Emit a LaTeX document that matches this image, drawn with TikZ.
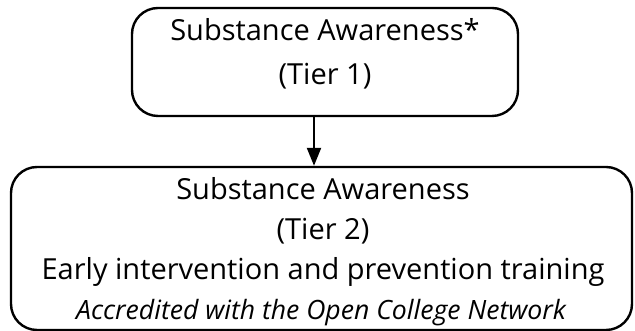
\documentclass[tikz,border=0pt]{standalone}
\usepackage{fontspec}
\setmainfont{Open Sans}
\usetikzlibrary{arrows.meta}
\begin{document}
\begin{tikzpicture}[x=1pt,y=1pt,
  box/.style={draw, line width=2.4pt, rounded corners=26pt, inner sep=0pt},
  txt/.style={anchor=base, inner sep=0pt, font=\fontsize{29}{36}\selectfont},
  itx/.style={anchor=base, inner sep=0pt, font=\fontsize{26.6}{32}\selectfont\itshape},
  conn/.style={line width=2.2pt, -{Triangle[width=14pt,length=18pt]}}]
\useasboundingbox (0,0) rectangle (635,331);
\node[box, minimum width=386pt, minimum height=108pt] (top) at (325,269) {};
\node[box, minimum width=621pt, minimum height=163pt] (bot) at (321.5,82.5) {};
\node[txt] (t1) at (325,290) {Substance Awareness*};
\node[txt] (t2) at (325,246) {(Tier 1)};
\node[txt] (b1) at (323,131) {Substance Awareness};
\node[txt] (b2) at (323,91) {(Tier 2)};
\node[txt] (b3) at (323,51) {Early intervention and prevention training};
\node[itx] (b4) at (321,11) {Accredited with the Open College Network};
\coordinate (ax) at (314,0);
\draw[conn] (top.south -| ax) -- (bot.north -| ax);
\end{tikzpicture}
\end{document}
